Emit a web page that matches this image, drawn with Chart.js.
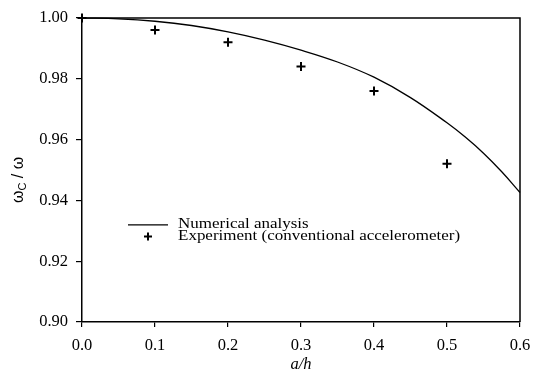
<!DOCTYPE html>
<html>
<head>
<meta charset="utf-8">
<script src="https://cdn.jsdelivr.net/npm/chart.js@4.4.1/dist/chart.umd.min.js"></script>
<style>
  body { margin: 0; background: #fff; }
  #wrap { width: 540px; height: 379px; }
</style>
</head>
<body>
<div id="wrap"><canvas id="chart"></canvas></div>
<script>
// numerical analysis curve
var numX = [0, 0.05, 0.1, 0.15, 0.2, 0.25, 0.3, 0.35, 0.4, 0.45, 0.5, 0.525, 0.55, 0.575, 0.6];
var numY = [1.0, 0.9997, 0.9989, 0.9975, 0.9954, 0.9927, 0.9894, 0.9855, 0.9805, 0.9738, 0.9655, 0.9608, 0.9555, 0.9494, 0.9426];

// experiment, conventional accelerometer
var expX = [0, 0.1, 0.2, 0.3, 0.4, 0.5];
var expY = [1.000, 0.996, 0.992, 0.984, 0.976, 0.952];

var legendLabels = ['Numerical analysis', 'Experiment (conventional accelerometer)'];

function toPoints(xs, ys) {
    return xs.map((x, i) => ({ x: x, y: ys[i] }));
}

// box round the plot + inner legend + y title with subscript
const extras = {
    id: 'extras',
    afterDraw(chart) {
        const ctx = chart.ctx;
        const a = chart.chartArea;
        ctx.save();
        ctx.strokeStyle = '#000';
        ctx.lineWidth = 1.5;
        ctx.beginPath();
        ctx.moveTo(a.left, a.top);
        ctx.lineTo(a.right, a.top);
        ctx.lineTo(a.right, a.bottom);
        ctx.stroke();

        // legend
        var lx = a.left + 46, ly = a.top + 207;
        ctx.lineWidth = 1.3;
        ctx.beginPath();
        ctx.moveTo(lx, ly);
        ctx.lineTo(lx + 40, ly);
        ctx.stroke();
        ctx.lineWidth = 2;
        ctx.beginPath();
        ctx.moveTo(lx + 16, ly + 11.5);
        ctx.lineTo(lx + 24, ly + 11.5);
        ctx.moveTo(lx + 20, ly + 7.5);
        ctx.lineTo(lx + 20, ly + 15.5);
        ctx.stroke();

        ctx.fillStyle = '#000';
        ctx.textBaseline = 'middle';
        ctx.textAlign = 'left';
        ctx.save();
        ctx.translate(lx + 50, ly);
        ctx.scale(1.25, 1);
        ctx.font = '13.6px "Liberation Serif"';
        ctx.fillText(legendLabels[0], 0, 0);
        ctx.fillText(legendLabels[1], 0, 11.5);
        ctx.restore();

        // y title: omega_C / omega
        ctx.save();
        ctx.translate(19, (a.top + a.bottom) / 2 + 10);
        ctx.rotate(-Math.PI / 2);
        ctx.textBaseline = 'middle';
        ctx.font = '16px "Liberation Sans"';
        var w1 = ctx.measureText('\u03c9').width;
        ctx.font = '11px "Liberation Sans"';
        var w2 = ctx.measureText('C').width;
        ctx.font = '16px "Liberation Sans"';
        var w3 = ctx.measureText(' / \u03c9').width;
        var x0 = -(w1 + w2 + w3) / 2;
        ctx.fillText('\u03c9', x0, 0);
        ctx.font = '11px "Liberation Sans"';
        ctx.fillText('C', x0 + w1, 4);
        ctx.font = '16px "Liberation Sans"';
        ctx.fillText(' / \u03c9', x0 + w1 + w2, 0);
        ctx.restore();
        ctx.restore();
    }
};

new Chart(document.getElementById('chart'), {
    type: 'scatter',
    data: {
        datasets: [{
            label: legendLabels[0],
            data: toPoints(numX, numY),
            showLine: true,
            borderColor: '#000',
            borderWidth: 1.3,
            pointRadius: 0,
            tension: 0.4,
            clip: false
        }, {
            label: legendLabels[1],
            data: toPoints(expX, expY),
            pointStyle: 'cross',
            pointRadius: 4.5,
            borderColor: '#000',
            borderWidth: 2,
            clip: false
        }]
    },
    options: {
        responsive: true,
        maintainAspectRatio: false,
        animation: false,
        layout: { padding: { left: 0, top: 16, right: 20, bottom: 0 } },
        plugins: {
            legend: { display: false },
            tooltip: { enabled: false }
        },
        scales: {
            x: {
                type: 'linear',
                min: 0,
                max: 0.6,
                afterFit: s => { s.height = 57; },
                ticks: {
                    stepSize: 0.1,
                    padding: 9,
                    color: '#000',
                    font: { family: '"Liberation Serif"', size: 16.5 },
                    callback: v => v.toFixed(1)
                },
                grid: { drawOnChartArea: false, tickLength: 5, color: '#000', lineWidth: 1.2 },
                border: { color: '#000', width: 1.5 },
                title: {
                    display: true,
                    text: 'a/h',
                    color: '#000',
                    padding: { top: 5 },
                    font: { family: '"Liberation Serif"', size: 16.5, style: 'italic' }
                }
            },
            y: {
                min: 0.9,
                max: 1.0,
                afterFit: s => { s.width = 82; },
                ticks: {
                    stepSize: 0.02,
                    padding: 8,
                    color: '#000',
                    font: { family: '"Liberation Serif"', size: 16.5 },
                    callback: v => v.toFixed(2)
                },
                grid: { drawOnChartArea: false, tickLength: 6, color: '#000', lineWidth: 1.2 },
                border: { color: '#000', width: 1.5 }
            }
        }
    },
    plugins: [extras]
});
</script>
</body>
</html>
